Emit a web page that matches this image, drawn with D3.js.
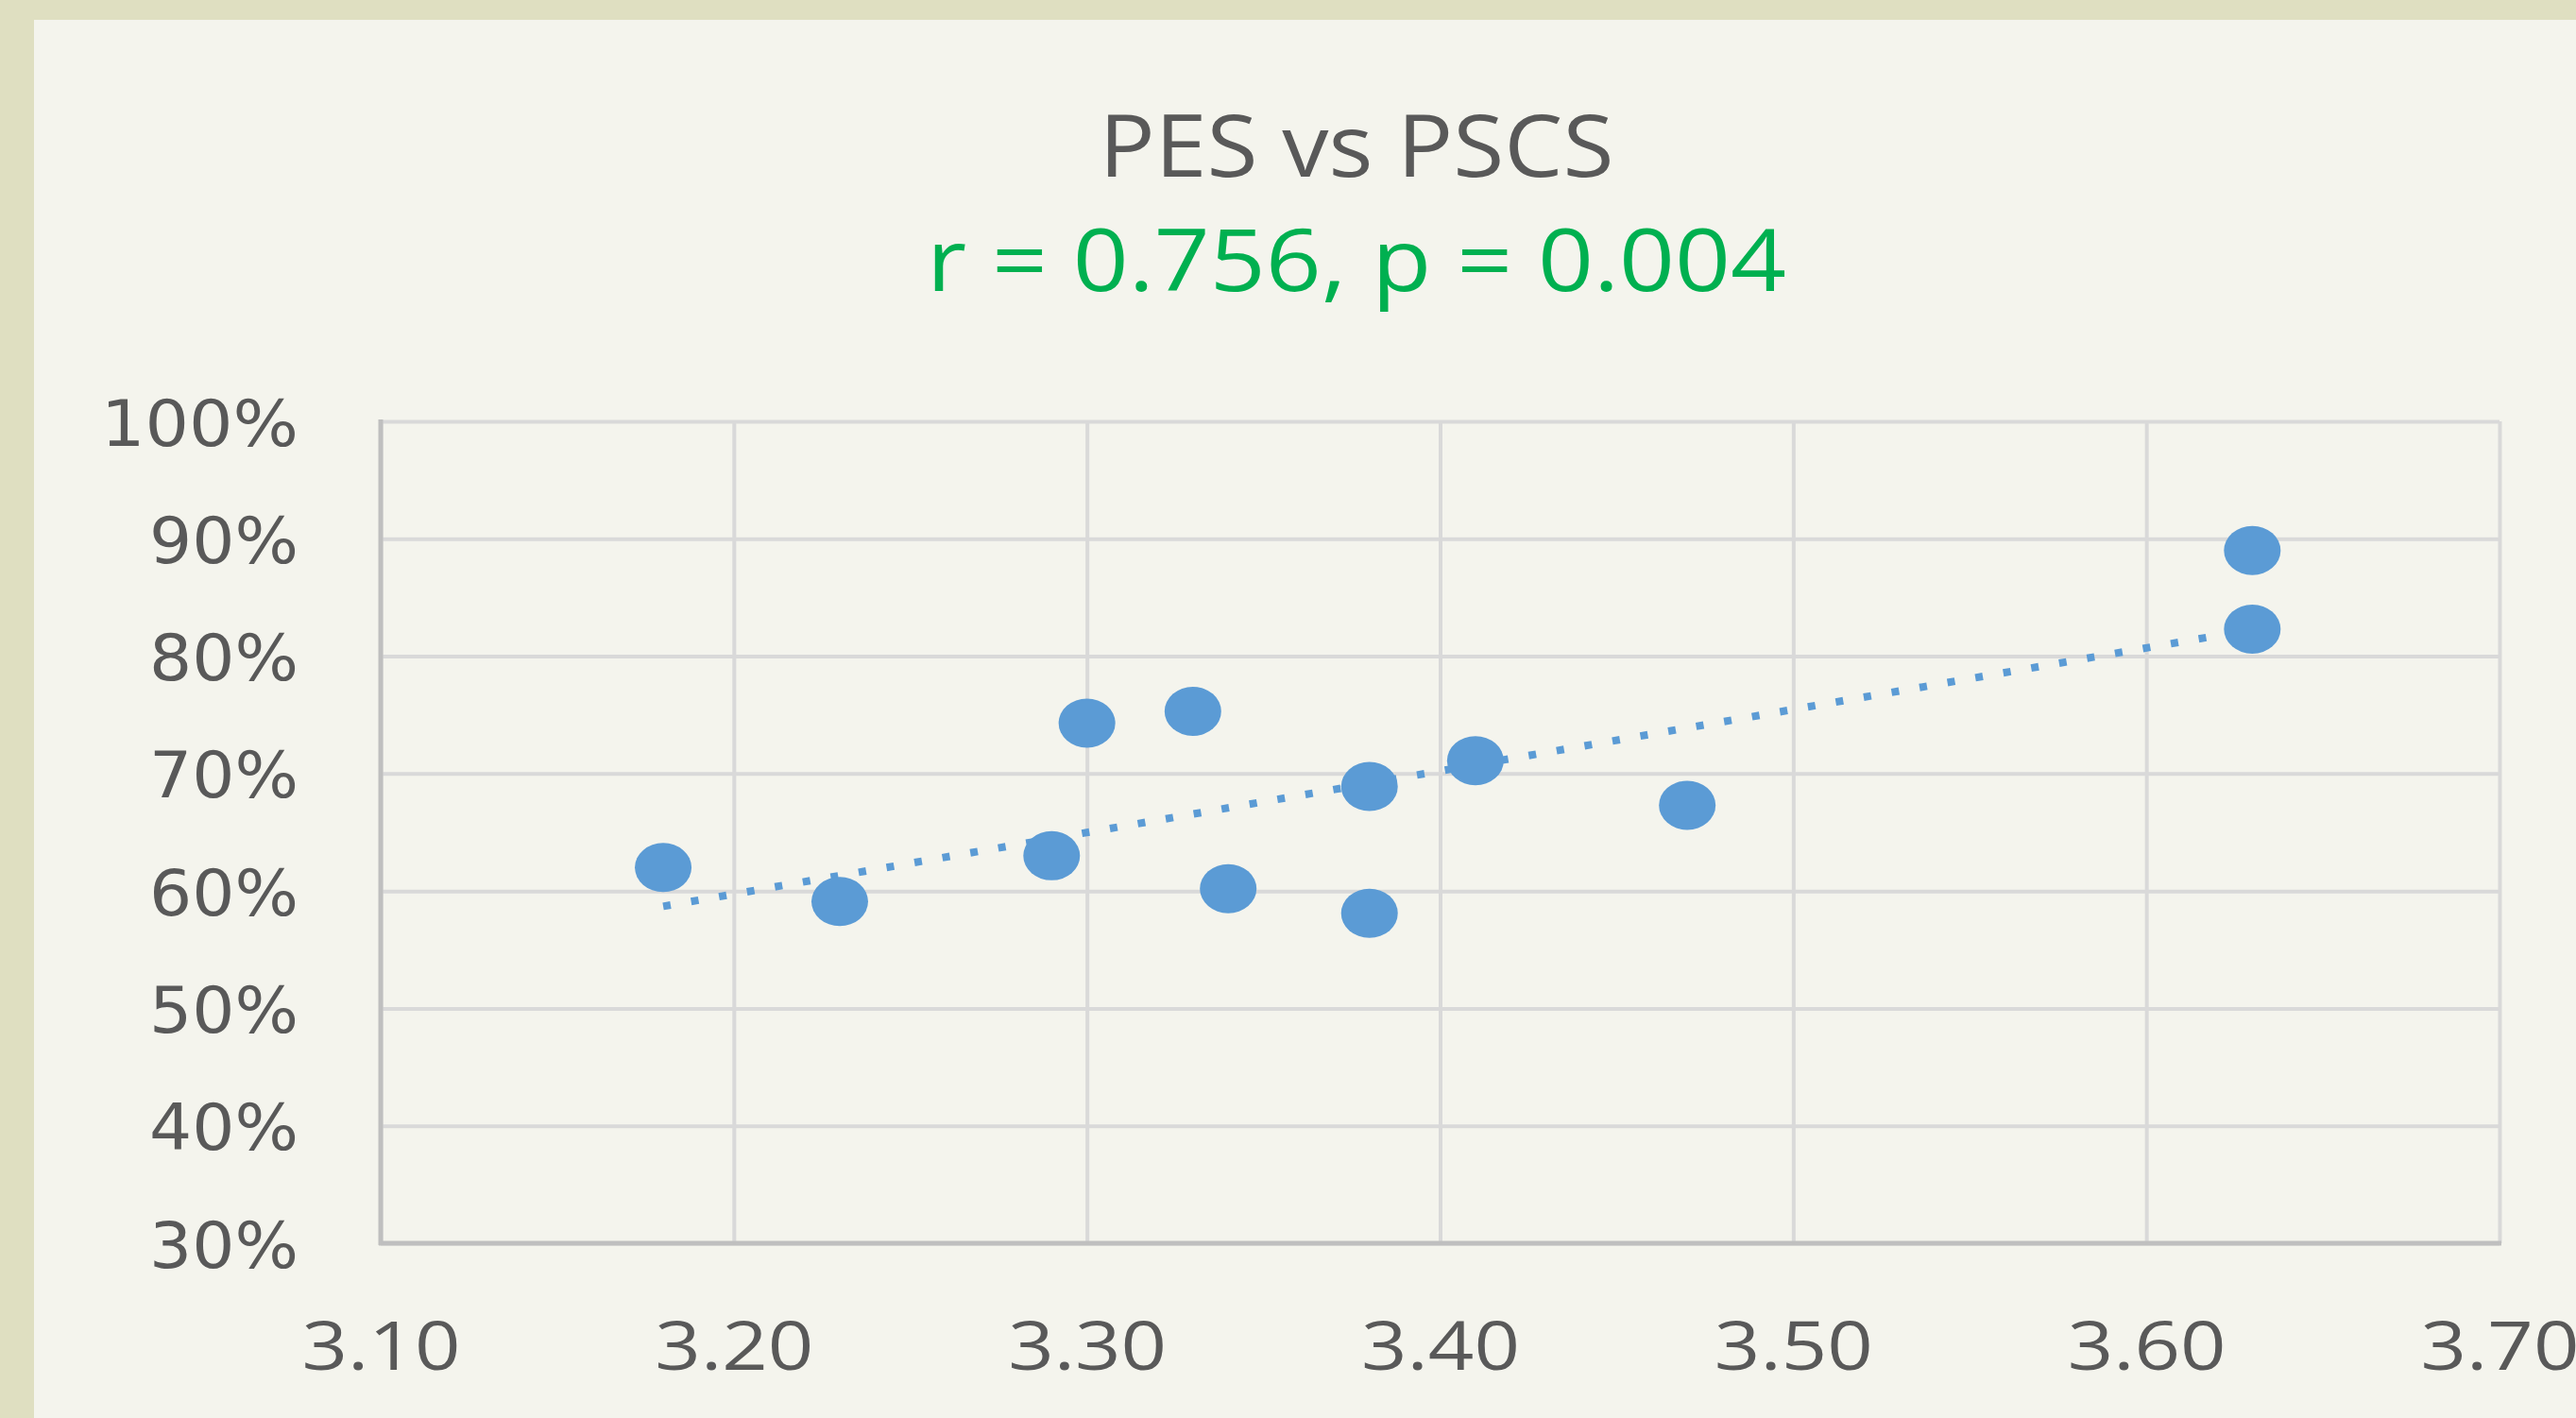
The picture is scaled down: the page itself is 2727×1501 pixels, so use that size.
<!DOCTYPE html>
<html>
<head>
<meta charset="utf-8">
<script src="https://cdn.jsdelivr.net/npm/d3@7"></script>
<style>
	html, body { margin: 0; padding: 0; background: #dfdfc1; }
	svg { display: block; }
	.grid line { stroke: #d9d9d9; stroke-width: 4; }
	.grid .domain { display: none; }
	.axis-line { stroke: #bfbfbf; stroke-width: 5; }
	.tick text { fill: #595959; }
</style>
</head>
<body>
<svg id="chart"></svg>
<script>
const WIDTH = 2727;
const HEIGHT = 1501;

const TITLE = 'PES vs PSCS';
const SUBTITLE = 'r = 0.756, p = 0.004';

// PES score (x) and PSCS (y, percent)
const PES = [3.18, 3.23, 3.29, 3.30, 3.33, 3.34, 3.38, 3.38, 3.41, 3.47, 3.63, 3.63];
const PSCS = [62.0, 59.1, 63.0, 74.3, 75.3, 60.2, 68.9, 58.1, 71.1, 67.3, 89.0, 82.3];

const X_TICKS = [3.1, 3.2, 3.3, 3.4, 3.5, 3.6, 3.7];
const Y_TICKS = [30, 40, 50, 60, 70, 80, 90, 100];

const COLOR = '#5b9bd5';
const GREEN = '#00b050';

const plot = { left: 403, right: 2646, top: 446, bottom: 1316 };

const svg = d3.select('#chart').attr('width', WIDTH).attr('height', HEIGHT);

// panel with the olive border on the left and top
svg.append('rect')
	.attr('x', 36).attr('y', 21)
	.attr('width', WIDTH - 36).attr('height', HEIGHT - 21)
	.attr('fill', '#f4f4ed');

const x = d3.scaleLinear().domain([3.1, 3.7]).range([plot.left, plot.right]);
const y = d3.scaleLinear().domain([30, 100]).range([plot.bottom, plot.top]);

const axisX = d3.axisBottom(x)
	.tickValues(X_TICKS)
	.tickSizeInner(-(plot.bottom - plot.top))
	.tickSizeOuter(0)
	.tickFormat(d3.format('.2f'));

const axisY = d3.axisLeft(y)
	.tickValues(Y_TICKS)
	.tickSizeInner(-(plot.right - plot.left))
	.tickSizeOuter(0)
	.tickPadding(87)
	.tickFormat(d => d + '%');

const gx = svg.append('g')
	.attr('class', 'grid')
	.attr('transform', `translate(0, ${plot.bottom})`)
	.call(axisX);

gx.selectAll('text')
	.attr('y', 134)
	.attr('dy', 0)
	.style('font-family', '"Open Sans", sans-serif')
	.style('font-size', '72px')
	.attr('textLength', 168)
	.attr('lengthAdjust', 'spacingAndGlyphs');

const gy = svg.append('g')
	.attr('class', 'grid')
	.attr('transform', `translate(${plot.left}, 0)`)
	.call(axisY);

gy.selectAll('text')
	.attr('dy', 25)
	.style('font-family', '"DejaVu Sans", sans-serif')
	.style('font-size', '68px')
	.attr('textLength', d => (d === 100 ? 209 : 158))
	.attr('lengthAdjust', 'spacingAndGlyphs');

// axis lines
svg.append('line')
	.attr('class', 'axis-line')
	.attr('x1', plot.left).attr('x2', plot.left)
	.attr('y1', plot.top - 2).attr('y2', plot.bottom + 2);

svg.append('line')
	.attr('class', 'axis-line')
	.attr('x1', plot.left - 2).attr('x2', plot.right + 2)
	.attr('y1', plot.bottom).attr('y2', plot.bottom);

// linear trendline, as the spreadsheet draws it
const mx = d3.mean(PES);
const my = d3.mean(PSCS);
const sxy = d3.sum(PES, (v, i) => (v - mx) * (PSCS[i] - my));
const sxx = d3.sum(PES, v => (v - mx) * (v - mx));
const slope = sxy / sxx;
const fit = v => my + slope * (v - mx);
const [xMin, xMax] = d3.extent(PES);

const line = d3.line()
	.x(d => x(d))
	.y(d => y(fit(d)));

svg.append('path')
	.datum([xMin, xMax])
	.attr('d', line)
	.attr('fill', 'none')
	.attr('stroke', COLOR)
	.attr('stroke-width', 8)
	.attr('stroke-dasharray', '8 22');

svg.append('g')
	.selectAll('ellipse')
	.data(PES)
	.enter()
	.append('ellipse')
	.attr('cx', d => x(d))
	.attr('cy', (d, i) => y(PSCS[i]))
	.attr('rx', 30)
	.attr('ry', 26)
	.attr('fill', COLOR);

// titles
svg.append('text')
	.attr('x', 1436)
	.attr('y', 187)
	.attr('text-anchor', 'middle')
	.attr('fill', '#595959')
	.style('font-family', '"Open Sans", sans-serif')
	.style('font-size', '91px')
	.attr('textLength', 545)
	.attr('lengthAdjust', 'spacingAndGlyphs')
	.text(TITLE);

svg.append('text')
	.attr('x', 1436)
	.attr('y', 308)
	.attr('text-anchor', 'middle')
	.attr('fill', GREEN)
	.style('font-family', '"Open Sans", sans-serif')
	.style('font-size', '91px')
	.attr('textLength', 910)
	.attr('lengthAdjust', 'spacingAndGlyphs')
	.text(SUBTITLE);
</script>
</body>
</html>
